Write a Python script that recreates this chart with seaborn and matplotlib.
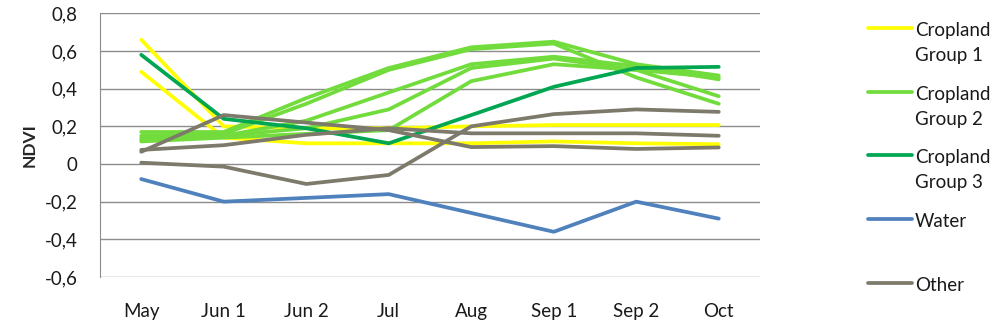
import pandas as pd
import seaborn as sns
import matplotlib.pyplot as plt
from matplotlib.lines import Line2D
from matplotlib.ticker import FuncFormatter

sns.set_style("white")
plt.rcParams['font.family'] = ['Lato', 'DejaVu Sans']

months = ["May", "Jun 1", "Jun 2", "Jul", "Aug", "Sep 1", "Sep 2", "Oct"]

# NDVI profiles
group1 = [
    [0.66, 0.20, 0.19, 0.19, 0.20, 0.207, 0.207, 0.207],
    [0.49, 0.14, 0.11, 0.11, 0.11, 0.12, 0.11, 0.105],
]
group2 = [
    [0.17, 0.17, 0.35, 0.51, 0.62, 0.65, 0.53, 0.47],
    [0.15, 0.16, 0.32, 0.50, 0.61, 0.64, 0.46, 0.32],
    [0.14, 0.15, 0.23, 0.38, 0.53, 0.57, 0.52, 0.45],
    [0.13, 0.15, 0.19, 0.29, 0.51, 0.56, 0.50, 0.36],
    [0.12, 0.14, 0.16, 0.18, 0.44, 0.53, 0.50, 0.46],
]
group3 = [
    [0.58, 0.24, 0.19, 0.11, 0.26, 0.41, 0.51, 0.516],
]
water = [
    [-0.08, -0.20, -0.18, -0.16, -0.26, -0.36, -0.20, -0.29],
]
other = [
    [0.065, 0.26, 0.22, 0.18, 0.09, 0.095, 0.08, 0.088],
    [0.075, 0.10, 0.155, 0.19, 0.163, 0.163, 0.163, 0.15],
    [0.007, -0.014, -0.106, -0.058, 0.20, 0.265, 0.29, 0.277],
]

groups = ["Cropland\nGroup 1", "Cropland\nGroup 2", "Cropland\nGroup 3", "Water", "Other"]
series = [group1, group2, group3, water, other]
colors = ["#FFFF00", "#72DC3C", "#00A651", "#4F81BD", "#7D7A6C"]

rows = []
for g, lines in zip(groups, series):
    for i, vals in enumerate(lines):
        for m, v in zip(months, vals):
            rows.append({"group": g, "line": f"{g}-{i}", "month": m, "ndvi": v})
df = pd.DataFrame(rows)

fig = plt.figure(figsize=(10, 3.27), dpi=100)
ax = fig.add_axes([0.1, 0.153, 0.66, 0.806])

for g, c in zip(groups, colors):
    sub = df[df["group"] == g]
    for lid in sub["line"].unique():
        sns.lineplot(data=sub[sub["line"] == lid], x="month", y="ndvi",
                     color=c, lw=2.7, sort=False, ax=ax, legend=False)

ax.set_xlim(-0.5, len(months) - 0.5)
ax.set_ylim(-0.6, 0.8)
ax.set_yticks([-0.6, -0.4, -0.2, 0, 0.2, 0.4, 0.6, 0.8])
ax.yaxis.set_major_formatter(FuncFormatter(
    lambda v, p: "0" if abs(v) < 1e-9 else f"{v:.1f}".replace(".", ",")))
ax.grid(axis="y", color="#8c8c8c", lw=1)
ax.grid(axis="x", visible=False)
for s in ["top", "right", "bottom"]:
    ax.spines[s].set_visible(False)
ax.spines["left"].set_color("#8c8c8c")
ax.tick_params(axis="y", length=0, pad=16, labelsize=13.5, labelcolor="#1a1a1a")
ax.tick_params(axis="x", length=0, pad=19, labelsize=13.5, labelcolor="#1a1a1a")
ax.set_xlabel("")
ax.set_ylabel("NDVI", fontsize=12.5, fontweight="bold", labelpad=5)

# legend on the right, handle level with the first text line
leg_y = [28, 92, 155, 219, 283]
for g, c, yp in zip(groups, colors, leg_y):
    yf = 1 - yp / 327
    fig.add_artist(Line2D([0.868, 0.912], [yf, yf], transform=fig.transFigure,
                          color=c, lw=2.7))
    fig.text(0.915, yf + 0.017, g, fontsize=13.5, va="top", ha="left",
             color="#1a1a1a", linespacing=1.55)

fig.savefig("out.png", dpi=100)
